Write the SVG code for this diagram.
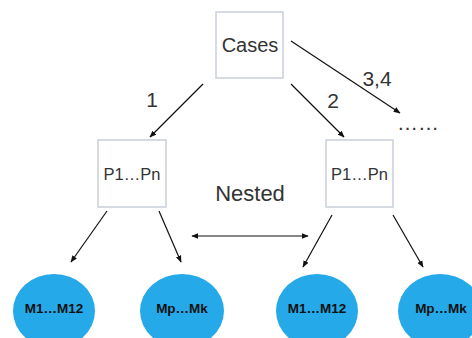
<svg xmlns="http://www.w3.org/2000/svg" width="472" height="338" viewBox="0 0 472 338">
<style>
.box{fill:#fff;stroke:#c9ced8;stroke-width:1.5}
.lbl{font-family:"Liberation Sans",Arial,sans-serif;fill:#333;text-anchor:middle}
.ell{fill:#25a9e8}
.mt{font-family:"Liberation Sans",Arial,sans-serif;font-weight:bold;font-size:13.5px;fill:#111;text-anchor:middle}
.con{stroke:#111;stroke-width:1.2;fill:none}
</style>
<defs>
<marker id="ah" viewBox="0 0 10 10" refX="9" refY="5" markerWidth="7" markerHeight="7" orient="auto-start-reverse" markerUnits="userSpaceOnUse">
<path d="M0,1 L10,5 L0,9 z" fill="#111"/>
</marker>
</defs>
<rect width="472" height="338" fill="#fff"/>
<g id="connectors">
<line class="con" x1="203" y1="84" x2="150" y2="137" marker-end="url(#ah)"/>
<line class="con" x1="291" y1="84" x2="344" y2="137" marker-end="url(#ah)"/>
<line class="con" x1="291" y1="41" x2="400" y2="113" marker-end="url(#ah)"/>
<line class="con" x1="107" y1="211" x2="71" y2="262" marker-end="url(#ah)"/>
<line class="con" x1="159" y1="211" x2="181" y2="262" marker-end="url(#ah)"/>
<line class="con" x1="332" y1="215" x2="303" y2="267" marker-end="url(#ah)"/>
<line class="con" x1="393" y1="215" x2="423" y2="267" marker-end="url(#ah)"/>
<line class="con" x1="192" y1="236" x2="308" y2="236" marker-start="url(#ah)" marker-end="url(#ah)"/>
<text class="lbl" x="152" y="107" font-size="21">1</text>
<text class="lbl" x="333" y="108" font-size="21">2</text>
<text class="lbl" x="377" y="86" font-size="21">3,4</text>
<text class="lbl" x="250" y="201" font-size="22">Nested</text>
</g>
<g id="cases">
<rect class="box" x="216" y="12" width="67" height="66"/>
<text class="lbl" x="250" y="52" font-size="20">Cases</text>
</g>
<g id="more">
<text class="lbl" x="418" y="130" font-size="21">……</text>
</g>
<g id="p-left">
<rect class="box" x="98" y="140" width="68" height="67"/>
<text class="lbl" x="132" y="180" font-size="16.5">P1…Pn</text>
</g>
<g id="p-right">
<rect class="box" x="326" y="140" width="67" height="67"/>
<text class="lbl" x="359.5" y="180" font-size="16.5">P1…Pn</text>
</g>
<g id="m-left-1">
<ellipse class="ell" cx="54" cy="311" rx="41" ry="37"/>
<text class="mt" x="54" y="313">M1…M12</text>
</g>
<g id="m-left-2">
<ellipse class="ell" cx="182" cy="311" rx="42" ry="37"/>
<text class="mt" x="182" y="313">Mp…Mk</text>
</g>
<g id="m-right-1">
<ellipse class="ell" cx="317" cy="311" rx="41" ry="37"/>
<text class="mt" x="317" y="313">M1…M12</text>
</g>
<g id="m-right-2">
<ellipse class="ell" cx="440" cy="311" rx="42" ry="37"/>
<text class="mt" x="441" y="313">Mp…Mk</text>
</g>
</svg>
